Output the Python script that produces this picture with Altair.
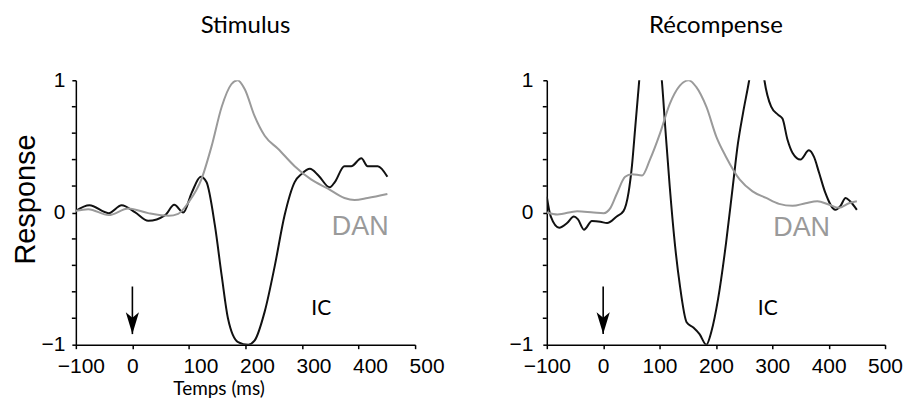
import altair as alt
import pandas as pd

# ---------------- data ----------------
stim_x_ic = [-100, -76, -42, -19, 5, 28, 58, 74, 90, 105, 121, 131, 146, 158, 169, 187, 205, 216,
             234, 252, 269, 287, 299, 314, 329, 349, 358, 375, 387, 405, 416, 434, 451]
stim_ic = [0.013, 0.055, -0.005, 0.055, 0.0, -0.063, -0.02, 0.058, 0.0, 0.15, 0.27, 0.23, -0.1,
           -0.48, -0.8, -0.98, -1.0, -0.97, -0.75, -0.4, -0.025, 0.23, 0.29, 0.33, 0.28, 0.19,
           0.23, 0.35, 0.35, 0.41, 0.35, 0.35, 0.27]

stim_x_dan = [-100, -78, -42, -7, 28, 64, 81, 99, 122, 140, 158, 175, 186, 199, 216, 234, 258,
              287, 316, 346, 375, 393, 416, 451]
stim_dan = [0.013, 0.025, -0.02, 0.03, -0.005, -0.025, -0.01, 0.075, 0.25, 0.5, 0.8, 0.97, 1.0,
            0.93, 0.73, 0.58, 0.48, 0.35, 0.25, 0.18, 0.11, 0.095, 0.11, 0.14]

rew_x_ic = [-100, -93, -78, -64, -52, -45, -34, -20, -5, 7, 24, 36, 45, 51, 57, 63, 70, 80, 90,
            100, 104, 110, 118, 127, 136, 148, 160, 171, 183, 192, 204, 218, 230, 239, 248, 259,
            270, 280, 286, 298, 310, 318, 327, 336, 350, 365, 374, 383, 394, 412, 421, 430, 438, 450]
rew_ic = [0.12, -0.03, -0.115, -0.08, -0.03, -0.05, -0.13, -0.065, -0.07, -0.08, -0.03, 0.01,
          0.15, 0.35, 0.65, 0.95, 1.3, 1.6, 1.5, 1.15, 1.0, 0.65, 0.2, -0.23, -0.55, -0.83, -0.87,
          -0.92, -1.0, -0.9, -0.65, -0.23, 0.2, 0.52, 0.75, 1.0, 1.3, 1.2, 1.0, 0.8, 0.74, 0.71,
          0.55, 0.45, 0.4, 0.47, 0.42, 0.3, 0.15, 0.02, 0.05, 0.11, 0.085, 0.02]

rew_x_dan = [-100, -81, -46, -17, 1, 13, 24, 39, 51, 69, 83, 101, 118, 136, 152, 165, 183, 201,
             218, 242, 265, 289, 312, 336, 359, 380, 400, 418, 436, 450]
rew_dan = [0.0, -0.015, 0.01, 0.0, -0.005, 0.035, 0.14, 0.27, 0.29, 0.28, 0.4, 0.6, 0.82, 0.96,
           1.0, 0.95, 0.8, 0.57, 0.42, 0.25, 0.16, 0.11, 0.065, 0.05, 0.07, 0.085, 0.06, 0.035,
           0.07, 0.085]

panel_titles = ["Stimulus", "Récompense"]
series_names = ["IC", "DAN"]
series_colors = ["#111111", "#9a9a9a"]

x_ticks = [-100, 0, 100, 200, 300, 400, 500]
y_label_ticks = [-1, 0, 1]
y_minor_ticks = [-0.8, -0.6, -0.4, -0.2, 0.2, 0.4, 0.6, 0.8]
x_min = -100

arrow_x = [0]
arrow_top = [-0.56]
arrow_tip = [-0.92]

ic_label_pos = [(334, -0.73), (292, -0.73)]
dan_label_pos = [(403, -0.11), (352, -0.12)]

ARROW_PATH = "M0,0L-0.6,-2L0,-1.5L0.6,-2Z"


def make_lines(xi, yi, xd, yd):
    rows = [{"t": a, "v": b, "s": "IC"} for a, b in zip(xi, yi)]
    rows += [{"t": a, "v": b, "s": "DAN"} for a, b in zip(xd, yd)]
    return pd.DataFrame(rows)


minus_expr = "datum.value < 0 ? '\u2212' + abs(datum.value) : '' + datum.value"


def panel(idx, lines_df, left, width):
    if left:
        x_axis = alt.Axis(values=x_ticks, labelExpr=minus_expr, title="Temps (ms)",
                          titleFont="Lato", titleFontSize=19, titleFontWeight="normal",
                          titleX=143, titlePadding=3, labelPadding=7,
                          labelFlush=False, labelOverlap=False,
                          labelAlign={"condition": {"test": "datum.value < 0", "value": "center"},
                                      "value": "left"},
                          labelOffset={"condition": {"test": "datum.value < 0", "value": 5},
                                       "value": -6})
        y_axis = alt.Axis(values=y_label_ticks, labelExpr=minus_expr, title="Response",
                          titleFont="Liberation Sans", titleFontSize=29,
                          titleFontWeight="normal", titleY=119, titlePadding=0,
                          labelPadding=7, labelOverlap=False, labelFlush=False)
    else:
        x_axis = alt.Axis(values=x_ticks, labelExpr=minus_expr, title=None,
                          labelPadding=7, labelFlush=False, labelOverlap=False)
        y_axis = alt.Axis(values=y_label_ticks, labelExpr=minus_expr, title=None,
                          labelPadding=10, labelOverlap=False, labelFlush=False)

    xs = alt.Scale(domain=[-100, 500], nice=False)
    ys = alt.Scale(domain=[-1, 1], nice=False)

    lines = alt.Chart(lines_df).mark_line(strokeWidth=2, clip=True,
                                          interpolate="monotone").encode(
        x=alt.X("t:Q", scale=xs, axis=x_axis),
        y=alt.Y("v:Q", scale=ys, axis=y_axis),
        color=alt.Color("s:N", scale=alt.Scale(domain=series_names, range=series_colors),
                        legend=None),
        detail="s:N",
    )

    minor_df = pd.DataFrame({"x": [x_min] * len(y_minor_ticks), "y": y_minor_ticks})
    minor = alt.Chart(minor_df).mark_tick(orient="horizontal", size=4, thickness=1.5,
                                          color="black", xOffset=-2, opacity=1).encode(
        x=alt.X("x:Q", scale=xs), y=alt.Y("y:Q", scale=ys))

    arrow_df = pd.DataFrame({"x": arrow_x, "top": arrow_top, "tip": arrow_tip})
    shaft = alt.Chart(arrow_df).mark_rule(color="black", strokeWidth=1.6).encode(
        x=alt.X("x:Q", scale=xs), y=alt.Y("top:Q", scale=ys), y2="tip:Q")
    head = alt.Chart(arrow_df).mark_point(shape=ARROW_PATH, size=484, filled=True,
                                          color="black", opacity=1).encode(
        x=alt.X("x:Q", scale=xs), y=alt.Y("tip:Q", scale=ys))

    ic_df = pd.DataFrame({"x": [ic_label_pos[idx][0]], "y": [ic_label_pos[idx][1]],
                          "txt": [series_names[0]]})
    dan_df = pd.DataFrame({"x": [dan_label_pos[idx][0]], "y": [dan_label_pos[idx][1]],
                           "txt": [series_names[1]]})
    ic_txt = alt.Chart(ic_df).mark_text(font="Lato", fontSize=21, color="black",
                                        align="center", baseline="middle").encode(
        x=alt.X("x:Q", scale=xs), y=alt.Y("y:Q", scale=ys), text="txt:N")
    dan_txt = alt.Chart(dan_df).mark_text(font="Liberation Sans", fontSize=27,
                                          color="#9a9a9a", align="center",
                                          baseline="middle").encode(
        x=alt.X("x:Q", scale=xs), y=alt.Y("y:Q", scale=ys), text="txt:N")

    return alt.layer(lines, minor, shaft, head, ic_txt, dan_txt).properties(
        width=width, height=265,
        title=alt.TitleParams(panel_titles[idx], font="Lato", fontSize=24,
                              fontWeight="normal", anchor="middle", offset=31, color="black"),
    )


left_panel = panel(0, make_lines(stim_x_ic, stim_ic, stim_x_dan, stim_dan), True, 340)
right_panel = panel(1, make_lines(rew_x_ic, rew_ic, rew_x_dan, rew_dan), False, 339)

chart = alt.hconcat(left_panel, right_panel, spacing=64).properties(
    padding={"left": 4, "top": 6, "right": 0, "bottom": 0},
    background="white",
).configure_view(stroke=None).configure_axis(
    grid=False, domainColor="black", domainWidth=1.5, tickColor="black", tickWidth=1.5,
    tickSize=4, labelColor="black", labelFont="Liberation Sans", labelFontSize=21,
    titleColor="black",
)

chart.save("out.html", embed_options={"renderer": "svg", "actions": False})
